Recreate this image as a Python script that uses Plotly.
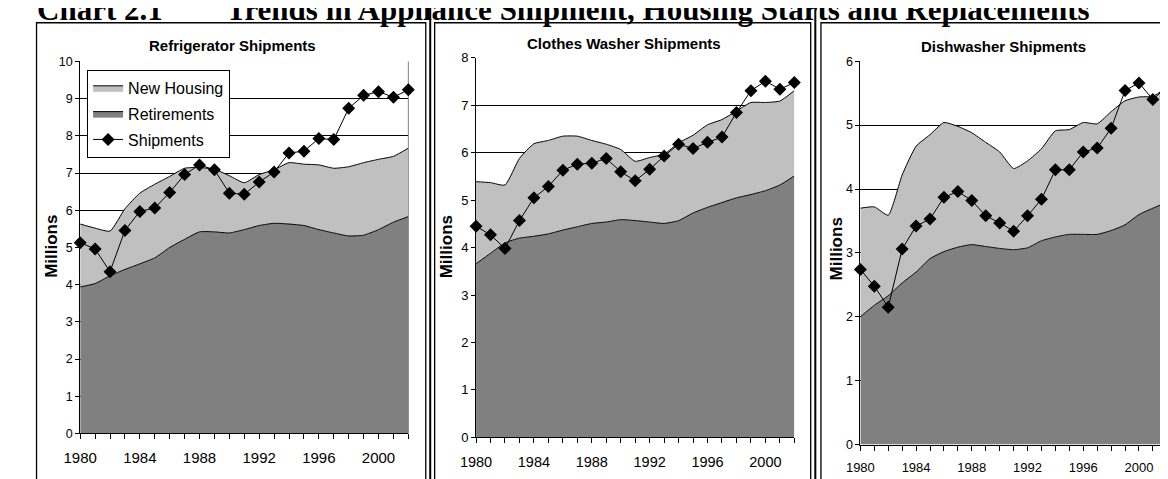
import plotly.graph_objects as go

# ---------------- data ----------------
years = [1980, 1981, 1982, 1983, 1984, 1985, 1986, 1987, 1988, 1989, 1990, 1991,
         1992, 1993, 1994, 1995, 1996, 1997, 1998, 1999, 2000, 2001, 2002]
x_tick_labels = ["1980", "1984", "1988", "1992", "1996", "2000"]

panel_titles = ["Refrigerator Shipments", "Clothes Washer Shipments", "Dishwasher Shipments"]
series_names = ["New Housing", "Retirements", "Shipments"]

ref_retire = [3.94, 4.03, 4.24, 4.41, 4.56, 4.72, 5.00, 5.22, 5.42, 5.42, 5.39, 5.48,
              5.59, 5.65, 5.63, 5.59, 5.48, 5.39, 5.31, 5.33, 5.48, 5.68, 5.83]
ref_newhouse = [1.69, 1.49, 1.20, 1.63, 1.90, 1.98, 1.91, 1.91, 1.73, 1.68, 1.54, 1.26,
                1.37, 1.44, 1.65, 1.65, 1.74, 1.74, 1.86, 1.95, 1.89, 1.77, 1.84]
ref_ship = [5.13, 4.96, 4.35, 5.46, 5.97, 6.06, 6.48, 6.96, 7.22, 7.09, 6.46, 6.43,
            6.76, 7.03, 7.54, 7.59, 7.93, 7.90, 8.74, 9.09, 9.19, 9.04, 9.24]

cw_retire = [3.66, 3.88, 4.10, 4.20, 4.24, 4.29, 4.37, 4.44, 4.51, 4.54, 4.59, 4.57,
             4.54, 4.51, 4.57, 4.73, 4.85, 4.95, 5.05, 5.12, 5.20, 5.32, 5.51]
cw_newhouse = [1.73, 1.49, 1.22, 1.68, 1.95, 1.97, 1.98, 1.91, 1.75, 1.64, 1.48, 1.25,
               1.36, 1.46, 1.64, 1.64, 1.74, 1.75, 1.83, 1.94, 1.86, 1.77, 1.80]
cw_ship = [4.45, 4.27, 3.98, 4.57, 5.05, 5.29, 5.63, 5.76, 5.78, 5.88, 5.60, 5.41,
           5.65, 5.93, 6.18, 6.09, 6.22, 6.33, 6.85, 7.31, 7.51, 7.34, 7.48]

dw_retire = [2.00, 2.18, 2.33, 2.53, 2.70, 2.91, 3.02, 3.09, 3.13, 3.10, 3.07, 3.05,
             3.08, 3.19, 3.25, 3.29, 3.29, 3.29, 3.35, 3.44, 3.60, 3.70, 3.79]
dw_newhouse = [1.70, 1.54, 1.26, 1.69, 1.97, 1.94, 2.02, 1.89, 1.75, 1.63, 1.51, 1.27,
               1.36, 1.44, 1.66, 1.64, 1.75, 1.73, 1.86, 1.94, 1.84, 1.75, 1.80]
dw_ship = [2.74, 2.48, 2.15, 3.06, 3.42, 3.53, 3.87, 3.96, 3.82, 3.58, 3.47, 3.34,
           3.58, 3.84, 4.30, 4.30, 4.58, 4.64, 4.95, 5.54, 5.66, 5.40, 5.60]

y_max = [10, 8, 6]

# ---------------- layout helpers (pixel -> paper) ----------------
W, H = 1168, 479
def px(p):
    return p / W
def py(p):
    return 1 - p / H

SANS = "Liberation Sans, Arial, sans-serif"
SERIF = "Liberation Serif, Times New Roman, serif"
C_NEW = "#C0C0C0"
C_RET = "#808080"

# plot-area pixel boxes: (left, right, top, bottom)
areas = [(56, 389, 48, 432), (457.7, 780.7, 44.3, 436), (847.7, 1158.7, 47.7, 443.5)]
xfont = [15, 14.5, 13]
yfont = [12.5, 13, 12.5]
title_pos = [(211, 32), (607.5, 29), (992.5, 32.5)]
mill_pos = [(26.7, 239), (428, 239), (823, 242)]

panels = [
    (ref_retire, ref_newhouse, ref_ship),
    (cw_retire, cw_newhouse, cw_ship),
    (dw_retire, dw_newhouse, dw_ship),
]

ticktext = [str(y) if str(y) in x_tick_labels else "" for y in years]

fig = go.Figure()
annotations = []
shapes = []

for i, (ret, new, ship) in enumerate(panels):
    n = "" if i == 0 else str(i + 1)
    xa, ya = "x" + n, "y" + n
    show = (i == 0)
    sg = "stack" + str(i)
    fig.add_trace(go.Scatter(
        x=years, y=ret, name=series_names[1], stackgroup=sg, xaxis=xa, yaxis=ya,
        mode="lines", line=dict(color="black", width=1, shape="spline", smoothing=0.5),
        fillcolor=C_RET, showlegend=show, legendrank=2, legendgroup="g2"))
    fig.add_trace(go.Scatter(
        x=years, y=new, name=series_names[0], stackgroup=sg, xaxis=xa, yaxis=ya,
        mode="lines", line=dict(color="black", width=1, shape="spline", smoothing=0.5),
        fillcolor=C_NEW, showlegend=show, legendrank=1, legendgroup="g1"))
    fig.add_trace(go.Scatter(
        x=years, y=ship, name=series_names[2], xaxis=xa, yaxis=ya,
        mode="lines+markers", line=dict(color="black", width=1),
        marker=dict(symbol="diamond", size=10, color="black"),
        cliponaxis=False, showlegend=show, legendrank=3, legendgroup="g3"))

    l, r, t, b = areas[i]
    fig.update_layout(**{
        "xaxis" + n: dict(
            domain=[px(l), px(r)], anchor=ya, range=[years[0], years[-1]],
            tickmode="array", tickvals=years, ticktext=ticktext,
            ticks="outside", ticklen=5, tickwidth=1, tickcolor="black",
            showline=True, linecolor="black", linewidth=1,
            showgrid=False, zeroline=False, ticklabelstandoff=6,
            tickfont=dict(family=SANS, size=xfont[i], color="black")),
        "yaxis" + n: dict(
            domain=[py(b), py(t)], anchor=xa, range=[0, y_max[i]], dtick=1,
            ticks="outside", ticklen=4, tickwidth=1, tickcolor="black",
            showline=True, linecolor="black", linewidth=1,
            showgrid=True, gridcolor="black", gridwidth=1, zeroline=False,
            tickfont=dict(family=SANS, size=yfont[i], color="black")),
    })

    tx, ty = title_pos[i]
    annotations.append(dict(
        text="<b>" + panel_titles[i] + "</b>", x=px(tx), y=py(ty), xref="paper", yref="paper",
        showarrow=False, xanchor="center", yanchor="middle",
        font=dict(family=SANS, size=15, color="black")))
    mx, my = mill_pos[i]
    annotations.append(dict(
        text="<b>Millions</b>", x=px(mx), y=py(my), xref="paper", yref="paper",
        showarrow=False, xanchor="center", yanchor="middle", textangle=-90,
        font=dict(family=SANS, size=17, color="black")))

# panel 1 right border (grey plot-area frame)
l, r, t, b = areas[0]
shapes.append(dict(type="line", xref="paper", yref="paper", x0=px(r), x1=px(r),
                   y0=py(b), y1=py(t), line=dict(color="#808080", width=1), layer="below"))

# panel frames
for (x0, x1) in [(11.7, 406.7), (415.7, 797.3), (807.7, 1200)]:
    shapes.append(dict(type="rect", xref="paper", yref="paper",
                       x0=px(x0), x1=px(x1), y0=-0.2, y1=py(8),
                       line=dict(color="black", width=1.3), fillcolor="rgba(0,0,0,0)"))
for xs in [411.2, 802]:
    shapes.append(dict(type="line", xref="paper", yref="paper",
                       x0=px(xs), x1=px(xs), y0=-0.2, y1=1.2,
                       line=dict(color="black", width=2)))

# big document title (cropped at the top of the picture)
annotations.append(dict(
    text="<b>Chart 2.1</b>", x=px(10), y=py(14), xref="paper", yref="paper",
    showarrow=False, xanchor="left", yanchor="bottom",
    font=dict(family=SERIF, size=31, color="black")))
annotations.append(dict(
    text="<b>Trends in Appliance Shipment, Housing Starts and Replacements</b>",
    x=px(202), y=py(14), xref="paper", yref="paper",
    showarrow=False, xanchor="left", yanchor="bottom",
    font=dict(family=SERIF, size=31, color="black")))

fig.update_layout(
    width=W, height=H, margin=dict(l=0, r=0, t=0, b=0),
    paper_bgcolor="white", plot_bgcolor="white",
    annotations=annotations, shapes=shapes,
    legend=dict(x=px(63), y=py(56.7), xanchor="left", yanchor="top",
                bgcolor="white", bordercolor="black", borderwidth=1,
                font=dict(family=SANS, size=16, color="black"),
                traceorder="grouped", tracegroupgap=2, itemwidth=30),
)

fig.write_html("out.html")
